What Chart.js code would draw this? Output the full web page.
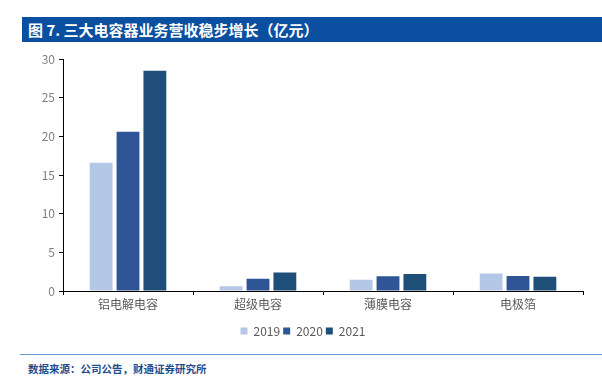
<!DOCTYPE html>
<html>
<head>
<meta charset="utf-8">
<script src="https://cdn.jsdelivr.net/npm/chart.js@4.4.1/dist/chart.umd.min.js"></script>
<style>
html,body{margin:0;padding:0;background:#fff;width:602px;height:378px;overflow:hidden;font-family:"Noto Sans CJK SC","Noto Sans",sans-serif;}
#title{position:absolute;left:22px;top:17px;width:580px;height:25px;background:#0b4fa0;color:#fff;font-size:15px;font-weight:bold;line-height:25px;padding-left:6px;box-sizing:border-box;white-space:nowrap;}
#rule{position:absolute;left:20px;top:354px;width:582px;height:1px;background:#6a9bd8;}
#src{position:absolute;left:28px;top:361px;font-size:10.5px;font-weight:bold;color:#1f4e8c;line-height:16px;white-space:nowrap;}
#wrap{position:absolute;left:0;top:48px;width:602px;height:299px;}
</style>
</head>
<body>
<div id="title">图 7. 三大电容器业务营收稳步增长（亿元）</div>
<div id="wrap"><canvas id="c"></canvas></div>
<div id="rule"></div>
<div id="src">数据来源：公司公告，财通证券研究所</div>
<script>
const categories = ["铝电解电容", "超级电容", "薄膜电容", "电极箔"];
const seriesNames = ["2019", "2020", "2021"];
const values2019 = [16.6, 0.6, 1.45, 2.25];
const values2020 = [20.6, 1.6, 1.9, 1.95];
const values2021 = [28.5, 2.4, 2.2, 1.85];
const yTicks = [0, 5, 10, 15, 20, 25, 30];
const colors = ["#b4c7e7", "#2f5597", "#1f4e79"];

const allValues = [values2019, values2020, values2021];
const datasets = seriesNames.map((n, i) => ({
  label: n,
  data: allValues[i],
  backgroundColor: colors[i],
  borderWidth: 0,
  barPercentage: 0.85,
  categoryPercentage: 0.62
}));

new Chart(document.getElementById("c"), {
  type: "bar",
  data: { labels: categories, datasets },
  options: {
    responsive: true,
    maintainAspectRatio: false,
    animation: false,
    layout: { padding: { left: 23, right: 19, top: 5, bottom: 0 } },
    plugins: {
      legend: {
        position: "bottom",
        labels: {
          boxWidth: 7, boxHeight: 7, padding: 3,
          color: "#595959",
          font: { size: 12, family: "'Noto Sans CJK SC', sans-serif" }
        }
      },
      tooltip: { enabled: false }
    },
    scales: {
      x: {
        grid: { display: true, drawOnChartArea: false, drawTicks: true, tickLength: 4, color: "#000", offset: true },
        border: { display: true, color: "#000", width: 1 },
        ticks: { color: "#595959", padding: 2, font: { size: 12, family: "'Noto Sans CJK SC', sans-serif" } },
        afterFit: s => { s.height = 31; }
      },
      y: {
        min: 0, max: 30,
        afterBuildTicks: s => { s.ticks = yTicks.map(v => ({ value: v })); },
        grid: { display: true, drawOnChartArea: false, drawTicks: true, tickLength: 4, color: "#000" },
        border: { display: true, color: "#000", width: 1 },
        ticks: { color: "#808080", padding: 4, font: { size: 12, family: "'Noto Sans CJK SC', sans-serif" } },
        afterFit: s => { s.width = 40; }
      }
    }
  }
});
</script>
</body>
</html>
